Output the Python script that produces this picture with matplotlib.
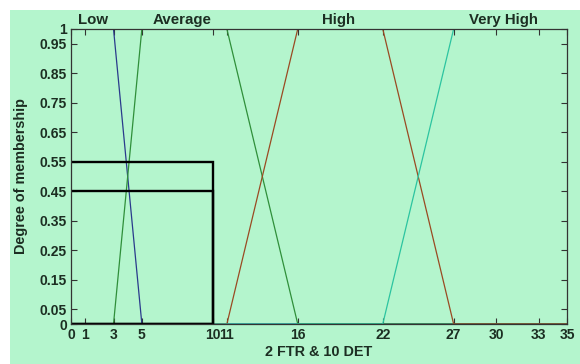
import matplotlib.pyplot as plt
from matplotlib.patches import Rectangle

# membership functions (x breakpoints, membership values)
low_x = [0, 3, 5, 35]
low_y = [1, 1, 0, 0]
avg_x = [0, 3, 5, 11, 16, 35]
avg_y = [0, 0, 1, 1, 0, 0]
high_x = [0, 11, 16, 22, 27, 35]
high_y = [0, 0, 1, 1, 0, 0]
vhigh_x = [0, 22, 27, 35]
vhigh_y = [0, 0, 1, 1]

set_names = ["Low", "Average", "High", "Very High"]
name_pos = [1.55, 7.85, 18.85, 30.5]

box_x = 10
box_levels = [0.55, 0.45]

xticks = [0, 1, 3, 5, 10, 11, 16, 22, 27, 30, 33, 35]
xticklabels = ["0", "1", "3", "5", "10", "11", "16", "22", "27", "30", "33", "35"]
yticks = [0, 0.05, 0.15, 0.25, 0.35, 0.45, 0.55, 0.65, 0.75, 0.85, 0.95, 1]
yticklabels = ["0", "0.05", "0.15", "0.25", "0.35", "0.45", "0.55", "0.65", "0.75", "0.85", "0.95", "1"]

bg = '#b4f5cd'
txt = '#1c2e22'

plt.rcParams['font.family'] = ['Liberation Sans', 'DejaVu Sans']

fig = plt.figure(figsize=(5.8, 3.64), dpi=100, facecolor='white')
# green panel, leaving a thin white strip on the top and left
fig.add_artist(Rectangle((10 / 580, 0), 570 / 580, 354 / 364,
                         transform=fig.transFigure, facecolor=bg,
                         edgecolor='none', zorder=-10))

ax = fig.add_axes([71 / 580, 40 / 364, 496 / 580, 295 / 364])
ax.set_facecolor(bg)

ax.plot(low_x, low_y, color='#2a3a8c', lw=0.9)
ax.plot(avg_x, avg_y, color='#2f8f3a', lw=0.9)
ax.plot(high_x, high_y, color='#9a4a22', lw=0.9)
ax.plot(vhigh_x, vhigh_y, color='#2cc4a0', lw=0.9)

for lvl in box_levels:
    ax.plot([0, box_x, box_x, 0], [lvl, lvl, 0, 0], color='black', lw=1.7,
            solid_joinstyle='miter')

for name, xp in zip(set_names, name_pos):
    ax.text(xp, 1.03, name, ha='center', va='center', fontsize=10.8,
            fontweight='bold', color=txt, clip_on=False)

ax.set_xlim(0, 35)
ax.set_ylim(0, 1)
ax.set_xticks(xticks)
ax.set_xticklabels(xticklabels)
ax.set_yticks(yticks)
ax.set_yticklabels(yticklabels)
ax.tick_params(direction='in', top=True, right=True, length=4, width=0.8,
               labelsize=10, colors='#333333', labelcolor=txt, pad=3)
for lab in ax.get_xticklabels() + ax.get_yticklabels():
    lab.set_fontweight('bold')
for sp in ax.spines.values():
    sp.set_color('#333333')
    sp.set_linewidth(0.9)

ax.set_xlabel("2 FTR & 10 DET", fontsize=10.4, fontweight='bold', color=txt, labelpad=2)
ax.set_ylabel("Degree of membership", fontsize=10.4, fontweight='bold', color=txt, labelpad=8)

fig.savefig("out.png", dpi=100, facecolor='white')
